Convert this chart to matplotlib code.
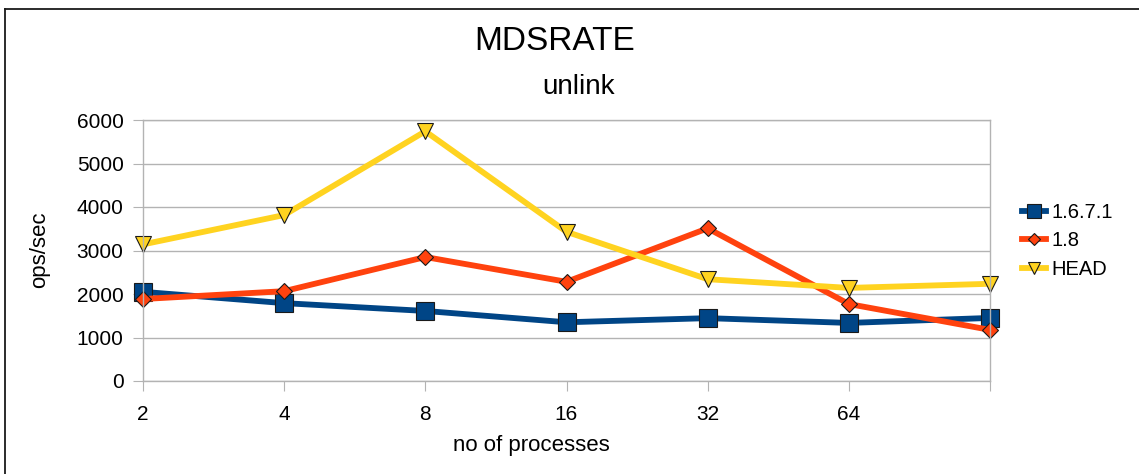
import matplotlib.pyplot as plt
from matplotlib.lines import Line2D
import numpy as np

# values
procs = ['2', '4', '8', '16', '32', '64', '']
v1671 = [2050, 1790, 1610, 1350, 1445, 1335, 1450]
v18 = [1885, 2065, 2850, 2280, 3510, 1770, 1175]
head = [3140, 3815, 5740, 3430, 2340, 2140, 2235]
yticks = [0, 1000, 2000, 3000, 4000, 5000, 6000]

plt.rcParams['font.family'] = ['Liberation Sans', 'DejaVu Sans']

W, H = 1139, 474
fig = plt.figure(figsize=(W / 100, H / 100), dpi=100)
ax = fig.add_axes([143 / W, 1 - 381 / H, (990 - 143) / W, (381 - 120) / H])

x = np.arange(len(procs))
grid_col = '#b3b3b3'

ax.plot(x, v1671, color='#004586', lw=4.2, marker='s', ms=12.5,
        mec='#1a1a1a', mew=0.8, label='1.6.7.1', clip_on=False)
ax.plot(x, v18, color='#ff420e', lw=4.2, marker='D', ms=8.2,
        mec='#1a1a1a', mew=0.8, label='1.8', clip_on=False)
ax.plot(x, head, color='#ffd320', lw=4.2, marker='v', ms=12,
        mec='#1a1a1a', mew=0.8, label='HEAD', clip_on=False)

ax.set_xlim(0, len(procs) - 1)
ax.set_ylim(0, 6000)
ax.set_xticks(x)
ax.set_xticklabels(procs)
ax.set_yticks(yticks)
ax.yaxis.grid(True, color=grid_col, lw=1)
ax.set_axisbelow(True)
for s in ax.spines.values():
    s.set_color(grid_col)
    s.set_linewidth(1)
ax.tick_params(axis='y', length=7, color=grid_col, labelsize=15, pad=7)
ax.tick_params(axis='x', length=7, color=grid_col, labelsize=15, pad=10)

fig.text(555 / W, 1 - 50 / H, 'MDSRATE', fontsize=24, ha='center', va='baseline')
fig.text(579 / W, 1 - 94 / H, 'unlink', fontsize=20, ha='center', va='baseline')
fig.text(531 / W, 1 - 445 / H, 'no of processes', fontsize=16, ha='center', va='center')
fig.text(40 / W, 1 - 250 / H, 'ops/sec', fontsize=16, ha='center', va='center', rotation=90)

ax.legend(loc='center left', bbox_to_anchor=(1022 / W, 1 - 241 / H),
          bbox_transform=fig.transFigure, frameon=False, fontsize=14.5,
          handlelength=1.2, handletextpad=0.25, borderpad=0, borderaxespad=0,
          labelspacing=0.45, markerscale=0.75)

# outer frame (only top and left edges visible in the reference)
fig.add_artist(Line2D([4.5 / W, 4.5 / W], [0, 1 - 9 / H], color='#1a1a1a', lw=1.3,
                      transform=fig.transFigure))
fig.add_artist(Line2D([4.5 / W, 1], [1 - 9 / H, 1 - 9 / H], color='#1a1a1a', lw=1.3,
                      transform=fig.transFigure))

fig.savefig('out.png', dpi=100)
